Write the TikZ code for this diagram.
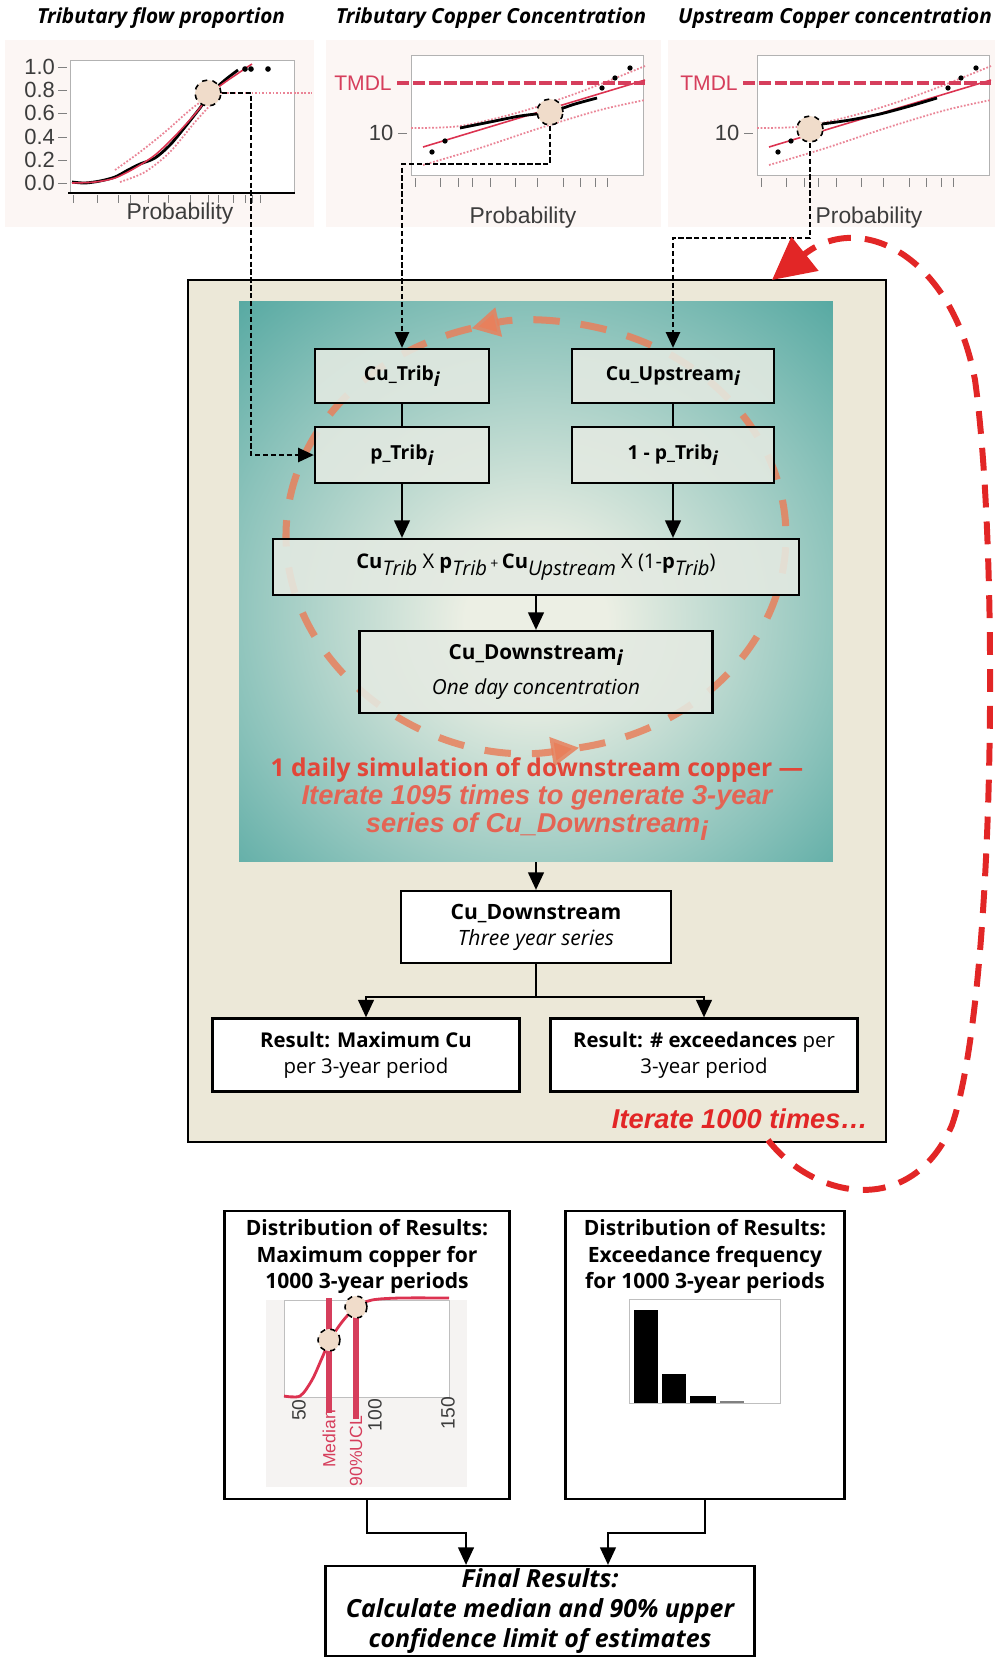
\documentclass[tikz,border=0pt]{standalone}
\usepackage{fontspec}
\setmainfont{Open Sans}
\newfontfamily\plotfont{Liberation Sans}
\usetikzlibrary{arrows.meta,positioning}

\definecolor{beigebg}{RGB}{236,232,216}
\definecolor{simpale}{RGB}{236,239,228}
\definecolor{simmid}{RGB}{140,195,187}
\definecolor{simteal}{RGB}{52,152,146}
\definecolor{simdeep}{RGB}{36,136,132}
\definecolor{boxgrey}{RGB}{228,234,226}
\definecolor{plotbg}{RGB}{252,246,244}
\definecolor{tmdlred}{RGB}{214,62,92}
\definecolor{fitred}{RGB}{220,50,80}
\definecolor{loopred}{RGB}{226,38,38}
\definecolor{salmonline}{RGB}{232,128,92}
\definecolor{simred}{RGB}{226,70,56}
\definecolor{itred}{RGB}{228,100,84}
\definecolor{hilitefill}{RGB}{240,220,202}
\definecolor{darkgrey}{RGB}{60,60,60}
\definecolor{chartbg}{RGB}{245,243,242}

\pgfdeclareradialshading{simglow}{\pgfpoint{0bp}{-4bp}}{color(0bp)=(simpale); color(6bp)=(simpale); color(26bp)=(simmid); color(44bp)=(simteal); color(70bp)=(simdeep)}

\newcommand\subi{\raisebox{-0.55ex}{\textit{i}}}
\newcommand\subtxt[1]{\raisebox{-0.6ex}{\textit{#1}}}

\tikzset{
	simbox/.style={draw, line width=1.3pt, fill=boxgrey, fill opacity=0.88, text opacity=1, align=center, inner sep=1pt, font=\fontsize{11}{13.5}\selectfont},
	resbox/.style={draw, line width=1.3pt, fill=white, align=center, inner sep=1pt, font=\fontsize{11.6}{14.7}\selectfont},
	flowarr/.style={line width=1.1pt, -{Triangle[length=10pt,width=9pt]}},
	feed/.style={line width=1.3pt, dash pattern=on 3pt off 1.5pt, -{Triangle[length=9pt,width=8pt]}},
	hilite/.style={circle, draw, dashed, line width=0.9pt, fill=hilitefill, minimum size=0.52cm, inner sep=0pt},
	plotlbl/.style={font=\plotfont\fontsize{12.5}{14}\selectfont, text=darkgrey, inner sep=1pt},
	plottitle/.style={font=\bfseries\itshape\fontsize{11.8}{14}\selectfont}
}

\begin{document}
\begin{tikzpicture}[x=0.02cm, y=-0.02cm]
	\useasboundingbox (0,0) rectangle (995,1658);

	% input distributions
	\fill[plotbg] (5,40) rectangle (314,227);
	\fill[plotbg] (326,40) rectangle (661,227);
	\fill[plotbg] (668,40) rectangle (995,227);
	\node[plottitle] (t1) at (161,18) {Tributary flow proportion};
	\node[plottitle] (t2) at (491,18) {Tributary Copper Concentration};
	\node[plottitle] (t3) at (835,18) {Upstream Copper concentration};

	% plot 1
	\fill[white] (70,60) rectangle (294,193);
	\draw[gray!60] (70,60) rectangle (294,193);
	\draw[line width=1.4pt] (68,193) -- (295,193);
	\foreach \v/\yy in {1.0/67,0.8/90,0.6/113,0.4/137,0.2/160,0.0/183}
	{
		\draw[gray] (58,\yy) -- (67,\yy);
		\node[plotlbl, anchor=east] (p1y\yy) at (57,\yy) {\v};
	}
	\foreach \xx in {73,97,118,130,148,168,190,208,218,233,245,252,260}
		\draw[gray] (\xx,195) -- (\xx,203);
	\node[plotlbl, font=\plotfont\fontsize{13}{15}\selectfont] (p1x) at (180,214) {Probability};
	\draw[fitred!60, densely dotted, line width=1pt] plot[smooth] coordinates {(115,170) (140,152) (165,132) (190,110) (210,95)};
	\draw[fitred!60, densely dotted, line width=1pt] plot[smooth] coordinates {(120,182) (145,172) (170,152) (195,122) (215,100)};
	\draw[fitred!60, densely dotted, line width=1pt] (220,93) -- (312,93);
	\draw[line width=1.6pt] plot[smooth] coordinates {(72,182) (85,183) (100,181) (115,177) (128,170) (140,164) (155,158) (170,145) (185,127) (200,108) (212,92) (225,80) (238,70)};
	\draw[fitred, line width=0.9pt] plot[smooth] coordinates {(72,183) (95,182) (115,178) (135,168) (155,155) (175,136) (195,114) (215,90) (240,72) (252,64)};
	\foreach \xx in {245,251,268}
		\fill (\xx,69) circle (1.6pt);

	% plots 2 and 3
	\foreach \dx in {0,346}
	{
		\fill[white] (411+\dx,55) rectangle (643+\dx,175);
		\draw[gray!60] (411+\dx,55) rectangle (643+\dx,175);
		\foreach \xx in {415,440,458,472,490,515,537,563,580,595,607}
			\draw[gray] (\xx+\dx,178) -- (\xx+\dx,187);
		\node[plotlbl, text=tmdlred, font=\plotfont\fontsize{12}{14}\selectfont] (tmdl\dx) at (363+\dx,83) {TMDL};
		\node[plotlbl] (ten\dx) at (381+\dx,133) {10};
		\draw[gray] (398+\dx,133) -- (407+\dx,133);
		\node[plotlbl, font=\plotfont\fontsize{13}{15}\selectfont] (prob\dx) at (523+\dx,218) {Probability};
		\draw[fitred!60, densely dotted, line width=1pt] plot[smooth] coordinates {(411+\dx,128) (460+\dx,126) (520+\dx,112) (580+\dx,92) (645+\dx,66)};
		\draw[fitred!60, densely dotted, line width=1pt] plot[smooth] coordinates {(423+\dx,165) (480+\dx,148) (540+\dx,128) (600+\dx,110) (645+\dx,100)};
		\draw[fitred, line width=0.9pt] (423+\dx,147) -- (645+\dx,80);
		\draw[tmdlred, line width=1.8pt, dash pattern=on 7pt off 2pt] (397+\dx,83) -- (645+\dx,83);
		\foreach \px/\py in {432/152,445/141,602/88,615/78,630/68}
			\fill (\px+\dx,\py) circle (1.5pt);
	}
	\draw[line width=1.6pt] plot[smooth] coordinates {(460,128) (490,122) (520,116) (550,112) (575,104) (597,98)};
	\draw[line width=1.6pt] plot[smooth] coordinates {(822,124) (850,120) (880,114) (910,106) (937,98)};

	\node[hilite] (c1) at (208,93) {};
	\node[hilite] (c2) at (550,112) {};
	\node[hilite] (c3) at (810,129) {};

	% outer loop and daily simulation
	\node[draw, line width=1.3pt, fill=beigebg, minimum width=13.96cm, minimum height=17.24cm, inner sep=0pt] (loopbox) at (537,711) {};
	\node[shade, shading=simglow, minimum width=11.88cm, minimum height=11.22cm, inner sep=0pt] (sim) at (536,581.5) {};

	\coordinate (loopc) at (536,536);
	\draw[salmonline, draw opacity=0.85, line width=4pt, dash pattern=on 15pt off 12pt, -{Triangle[length=16pt,width=16pt]}] ([shift={(-80:5.0cm and 4.3cm)}]loopc) arc[start angle=-80, end angle=105, x radius=5.0cm, y radius=4.3cm];
	\draw[salmonline, draw opacity=0.85, line width=4pt, dash pattern=on 15pt off 12pt, -{Triangle[length=16pt,width=16pt]}] ([shift={(105:5.0cm and 4.3cm)}]loopc) arc[start angle=105, end angle=280, x radius=5.0cm, y radius=4.3cm];

	\node[simbox, minimum width=3.48cm, minimum height=1.08cm] (ctrib) at (402,376) {\textbf{Cu\_Trib\subi}};
	\node[simbox, minimum width=3.48cm, minimum height=1.12cm] (ptrib) at (402,455) {\textbf{p\_Trib\subi}};
	\node[simbox, minimum width=4.04cm, minimum height=1.08cm] (cup) at (673,376) {\textbf{Cu\_Upstream\subi}};
	\node[simbox, minimum width=4.04cm, minimum height=1.12cm] (omp) at (673,455) {\textbf{1 - p\_Trib\subi}};
	\node[simbox, minimum width=10.52cm, minimum height=1.12cm, font=\fontsize{11.5}{13.5}\selectfont] (formula) at (536,567)
		{\textbf{Cu}\subtxt{Trib} X \textbf{p}\subtxt{Trib}\,{\footnotesize +}\,\textbf{Cu}\subtxt{Upstream} X (1-\textbf{p}\subtxt{Trib})};
	\node[simbox, minimum width=7.06cm, minimum height=1.64cm, font=\fontsize{11.8}{14}\selectfont] (cdi) at (536,672) {\textbf{Cu\_Downstream\subi}\\[6pt]\textit{One day concentration}};

	\node[align=center, font=\fontsize{14}{15.8}\selectfont] (simtxt) at (537,799)
		{{\color{simred}\bfseries 1 daily simulation of downstream copper —}\\
		{\color{itred}\plotfont\bfseries\itshape\fontsize{15.5}{15.8}\selectfont Iterate 1095 times to generate 3-year}\\
		{\color{itred}\plotfont\bfseries\itshape\fontsize{15.5}{15.8}\selectfont series of Cu\_Downstream\subi}};

	\draw[line width=1.1pt] (ctrib.south) -- (ptrib.north);
	\draw[line width=1.1pt] (cup.south) -- (omp.north);
	\draw[flowarr] (ptrib.south) -- (ptrib.south |- formula.north);
	\draw[flowarr] (omp.south) -- (omp.south |- formula.north);
	\draw[flowarr] (formula.south) -- (cdi.north);

	% three-year series and results
	\node[resbox, minimum width=5.4cm, minimum height=1.44cm, font=\fontsize{12}{14.7}\selectfont] (cds) at (536,927) {\textbf{Cu\_Downstream}\\\textit{Three year series}};
	\node[resbox, minimum width=6.14cm, minimum height=1.46cm] (rmax) at (366,1055) {\textbf{Result: Maximum Cu}\\per 3-year period};
	\node[resbox, minimum width=6.14cm, minimum height=1.46cm] (rexc) at (704,1055) {\textbf{Result: \# exceedances} per\\3-year period};
	\node[anchor=east, text=loopred, font=\plotfont\bfseries\itshape\fontsize{15.5}{17}\selectfont] (itertxt) at (874,1119) {Iterate 1000 times\dots};

	\draw[flowarr] (sim.south) -- (cds.north);
	\draw[line width=1.1pt] (cds.south) -- ++(0,33) coordinate (split);
	\draw[flowarr] (split) -| (rmax.north);
	\draw[flowarr] (split) -| (rexc.north);

	% feeds from the input distributions
	\draw[feed] (c1.east) -| ([xshift=-1.26cm]ptrib.west) -- (ptrib.west);
	\draw[feed] (c2.south) -- ++(0,38) -| (ctrib.north);
	\draw[feed] (c3.south) -- ++(0,95) -| (cup.north);

	% big repeat arrow
	\coordinate (loopstart) at (768,1140);
	\coordinate (looptip) at (772,280);
	\draw[loopred, line width=3.4pt, dash pattern=on 13pt off 8pt, -{Triangle[length=24pt,width=24pt]}]
		(loopstart) .. controls (815,1200) and (912,1218) .. (952,1125)
		.. controls (995,1000) and (1000,560) .. (975,380)
		.. controls (952,255) and (860,210) .. (looptip);

	% distributions of results
	\node[resbox, minimum width=5.7cm, minimum height=5.76cm] (dmax) at (367,1355) {};
	\node[resbox, minimum width=5.58cm, minimum height=5.76cm] (dexc) at (705,1355) {};
	\node[align=center, font=\bfseries\fontsize{12}{15}\selectfont, below=2pt of dmax.north] (dmaxt) {Distribution of Results:\\Maximum copper for\\1000 3-year periods};
	\node[align=center, font=\bfseries\fontsize{12}{15}\selectfont, below=2pt of dexc.north] (dexct) {Distribution of Results:\\Exceedance frequency\\for 1000 3-year periods};

	\fill[chartbg] (266,1300) rectangle (467,1487);
	\fill[white] (284,1300) rectangle (449,1397);
	\draw[gray!50] (284,1300) rectangle (449,1397);
	\draw[fitred, line width=1.6pt] plot[smooth] coordinates {(284,1396) (300,1396) (312,1380) (322,1358) (330,1340) (342,1322) (356,1307) (372,1300) (400,1298) (449,1298)};
	\draw[tmdlred, line width=3pt] (329,1298) -- (329,1413);
	\draw[tmdlred, line width=3pt] (356,1298) -- (356,1419);
	\node[hilite, minimum size=0.44cm] (med) at (329,1340) {};
	\node[hilite, minimum size=0.44cm] (ucl) at (356,1307) {};
	\node[plotlbl, rotate=90, font=\plotfont\fontsize{11}{13}\selectfont] (n50) at (299,1410) {50};
	\node[plotlbl, rotate=90, font=\plotfont\fontsize{11}{13}\selectfont] (n100) at (375,1415) {100};
	\node[plotlbl, rotate=90, font=\plotfont\fontsize{11}{13}\selectfont] (n150) at (448,1413) {150};
	\node[plotlbl, rotate=90, text=tmdlred, font=\plotfont\fontsize{10}{12}\selectfont] (medlbl) at (329,1439) {Median};
	\node[plotlbl, rotate=90, text=tmdlred, font=\plotfont\fontsize{10}{12}\selectfont] (ucllbl) at (356,1451) {90\%UCL};

	\draw[gray!50] (629,1299) rectangle (780,1403);
	\fill (634,1310) rectangle (658,1403);
	\fill (662,1374) rectangle (686,1403);
	\fill (690,1396) rectangle (716,1403);
	\fill[gray] (720,1401) rectangle (744,1403);

	% final results
	\node[resbox, minimum width=8.58cm, minimum height=1.8cm, font=\bfseries\itshape\fontsize{14.2}{16.8}\selectfont] (final) at (540,1611)
		{Final Results:\\Calculate median and 90\% upper\\confidence limit of estimates};
	\draw[flowarr] (dmax.south) -- ++(0,33) -| ([xshift=-1.48cm]final.north);
	\draw[flowarr] (dexc.south) -- ++(0,33) -| ([xshift=1.36cm]final.north);
\end{tikzpicture}
\end{document}
